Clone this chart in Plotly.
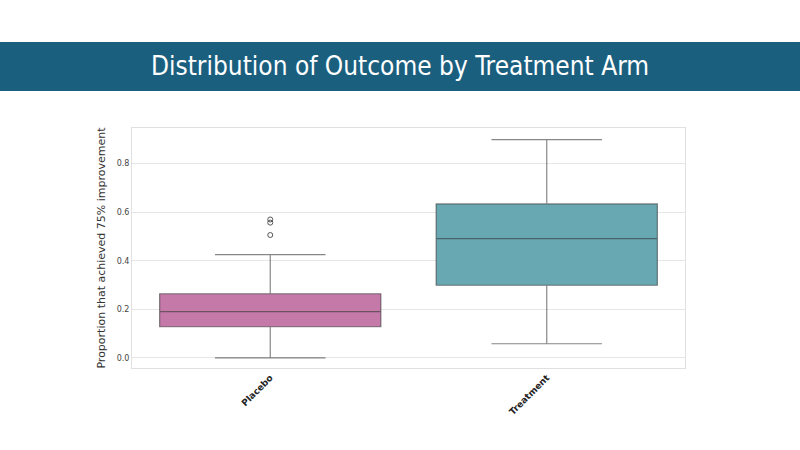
import plotly.graph_objects as go

categories = ["Placebo", "Treatment"]
q1 = [0.128, 0.299]
median = [0.190, 0.491]
q3 = [0.264, 0.634]
lower_fence = [0.0, 0.058]
upper_fence = [0.425, 0.899]
fill_colors = ["#c479a9", "#68a8b3"]
outlier_x = ["Placebo", "Placebo", "Placebo"]
outlier_y = [0.570, 0.557, 0.506]
y_ticks = [0.0, 0.2, 0.4, 0.6, 0.8]

fig = go.Figure()
for i, cat in enumerate(categories):
    fig.add_trace(go.Box(
        x=[cat], q1=[q1[i]], median=[median[i]], q3=[q3[i]],
        lowerfence=[lower_fence[i]], upperfence=[upper_fence[i]],
        fillcolor=fill_colors[i],
        line=dict(color="rgba(55,55,55,0.6)", width=1.2),
        width=0.8, whiskerwidth=0.5, boxpoints=False, showlegend=False,
        hoverinfo="skip",
    ))

fig.add_trace(go.Scatter(
    x=outlier_x, y=outlier_y, mode="markers",
    marker=dict(symbol="circle-open", size=5, color="#555555", line=dict(width=1)),
    showlegend=False, hoverinfo="skip",
))

L, R, T, B = 132, 115, 128, 82
pw, ph = 800 - L - R, 450 - T - B

fig.add_shape(type="rect", xref="paper", yref="paper",
              x0=-L / pw, x1=(800 - L) / pw,
              y0=(450 - B - 91) / ph, y1=(450 - B - 42) / ph,
              fillcolor="#1b5f7f", line=dict(width=0), layer="below")
fig.add_annotation(xref="paper", yref="paper",
                   x=(400 - L) / pw, y=(450 - B - 66.5) / ph,
                   text="Distribution of Outcome by Treatment Arm",
                   showarrow=False, xanchor="center", yanchor="middle",
                   font=dict(family="DejaVu Sans Condensed", size=26, color="white", weight=300))

fig.update_layout(
    width=800, height=450,
    margin=dict(l=L, r=R, t=T, b=B),
    paper_bgcolor="white", plot_bgcolor="white",
    font=dict(family="DejaVu Sans", color="#333333"),
    xaxis=dict(
        type="category", range=[-0.5, 1.5],
        tickangle=-45, tickfont=dict(size=9, color="#222222", family="DejaVu Sans", weight="bold"),
        showgrid=False, showline=True, linecolor="#e0e0e0", mirror=True,
        ticks="", zeroline=False,
    ),
    yaxis=dict(
        range=[-0.042, 0.947], tickvals=y_ticks,
        ticktext=[f"{v:.1f}" for v in y_ticks],
        tickfont=dict(size=8, color="#444444"),
        title=dict(text="Proportion that achieved 75% improvement",
                   font=dict(size=11, color="#333333"), standoff=8),
        showgrid=True, gridcolor="#e6e6e6", gridwidth=1,
        showline=True, linecolor="#e0e0e0", mirror=True,
        zeroline=False, ticks="",
    ),
)

fig.write_html("out.html")
